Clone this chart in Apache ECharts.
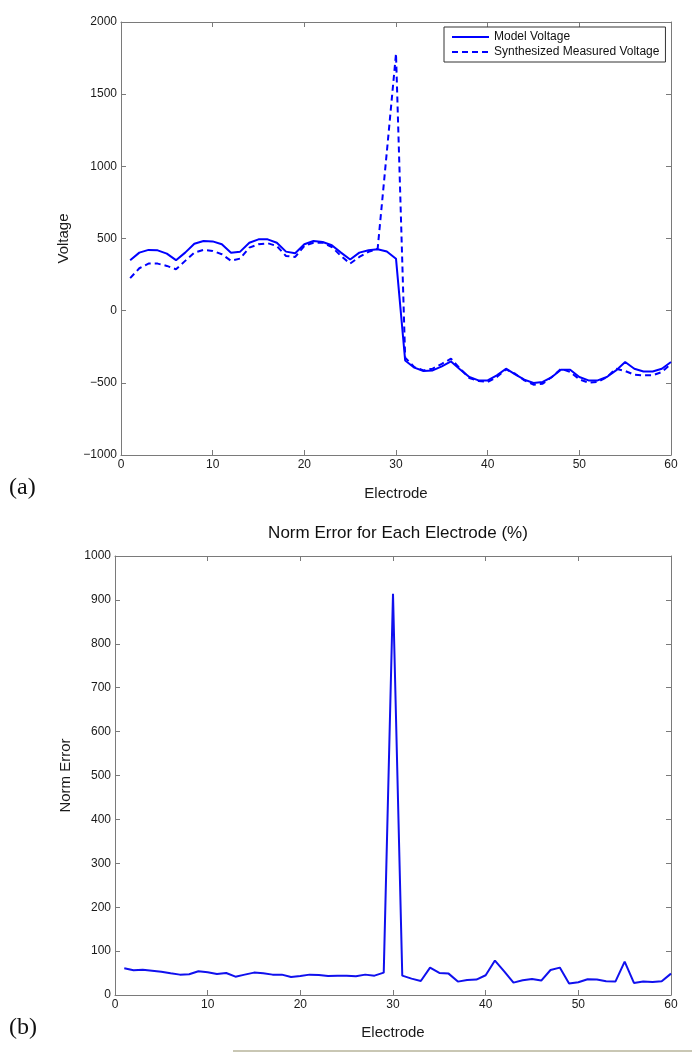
<!DOCTYPE html>
<html>
<head>
<meta charset="utf-8">
<script src="https://cdn.jsdelivr.net/npm/echarts@6/dist/echarts.min.js"></script>
<style>
  html, body { margin: 0; padding: 0; background: #fff; }
  #chart { width: 692px; height: 1053px; }
</style>
</head>
<body>
<div id="chart"></div>
<script>
  // electrode index (x)
  const electrodes = [1, 2, 3, 4, 5, 6, 7, 8, 9, 10, 11, 12, 13, 14, 15, 16, 17, 18, 19, 20,
    21, 22, 23, 24, 25, 26, 27, 28, 29, 30, 31, 32, 33, 34, 35, 36, 37, 38, 39, 40,
    41, 42, 43, 44, 45, 46, 47, 48, 49, 50, 51, 52, 53, 54, 55, 56, 57, 58, 59, 60]

  // (a) voltages
  const modelVoltage = [350, 402, 421, 418, 395, 350, 402, 464, 483, 480, 460, 402, 409, 471, 494, 494, 471, 409, 398, 460,
    483, 476, 453, 402, 354, 402, 418, 425, 410, 360, -345, -395, -418, -414, -386, -352, -407, -460, -483, -483,
    -448, -402, -441, -478, -501, -494, -460, -409, -409, -460, -483, -483, -460, -414, -356, -402, -421, -421, -402, -356]
  const measuredVoltage = [225, 294, 326, 326, 310, 287, 345, 402, 421, 414, 391, 345, 361, 437, 460, 467, 448, 379, 372, 448,
    471, 471, 441, 379, 326, 372, 407, 430, 1100, 1780, -325, -391, -414, -402, -368, -333, -402, -467, -487, -494,
    -460, -407, -437, -483, -513, -506, -460, -402, -425, -476, -499, -494, -460, -402, -418, -444, -448, -448, -425, -368]

  // (b) norm error per electrode
  const normError = [60.8, 56.2, 57.7, 55.5, 53.2, 49.4, 46.4, 47.2, 54.0, 51.7, 47.9, 50.2, 41.8, 46.4, 51.0, 49.4, 46.4, 46.4, 41.1, 43.4,
    46.4, 45.6, 43.4, 44.1, 44.1, 42.6, 46.4, 44.1, 51.0, 914, 44.1, 37.3, 32.0, 62.4, 50.2, 48.7, 30.5, 34.3, 35.1, 45.0,
    78.4, 54.0, 28.2, 33.5, 36.6, 32.8, 57.0, 62.4, 26.0, 29.0, 35.8, 35.1, 31.3, 30.5, 76.1, 27.5, 30.5, 29.8, 31.3, 48.7]

  const pairs = (ys) => electrodes.map((x, i) => [x, ys[i]])

  const axisColor = '#7a7a7a'
  const labelFont = { color: '#1a1a1a', fontSize: 12, fontFamily: 'Liberation Sans' }
  const nameFont = { color: '#1a1a1a', fontSize: 15, fontFamily: 'Liberation Sans' }

  // one side of the matlab style box, ticks pointing inward
  function frameAxis(gridIndex, position, min, max, interval, withLabels) {
    return {
      type: 'value',
      gridIndex: gridIndex,
      position: position,
      min: min,
      max: max,
      interval: interval,
      axisLine: { show: true, onZero: false, lineStyle: { color: axisColor, width: 1 } },
      axisTick: { show: true, inside: true, length: 5, lineStyle: { color: axisColor } },
      axisLabel: Object.assign({
        show: withLabels,
        margin: 4,
        formatter: function (v) {
          return String(v).replace('-', '\u2212')
        }
      }, labelFont),
      splitLine: { show: false }
    }
  }

  let myChart = echarts.init(document.getElementById('chart'))

  let xTop = frameAxis(0, 'bottom', 0, 60, 10, true)
  xTop.name = 'Electrode'
  xTop.nameLocation = 'middle'
  xTop.nameGap = 31
  xTop.nameTextStyle = nameFont
  let xBottom = frameAxis(1, 'bottom', 0, 60, 10, true)
  xBottom.name = 'Electrode'
  xBottom.nameLocation = 'middle'
  xBottom.nameGap = 30
  xBottom.nameTextStyle = nameFont

  let yTop = frameAxis(0, 'left', -1000, 2000, 500, true)
  yTop.name = 'Voltage'
  yTop.nameLocation = 'middle'
  yTop.nameGap = 50
  yTop.nameTextStyle = nameFont
  let yBottom = frameAxis(1, 'left', 0, 1000, 100, true)
  yBottom.name = 'Norm Error'
  yBottom.nameLocation = 'middle'
  yBottom.nameGap = 39
  yBottom.nameTextStyle = nameFont

  let option = {
    animation: false,
    backgroundColor: '#fff',
    title: {
      text: 'Norm Error for Each Electrode (%)',
      left: 393,
      top: 520,
      textAlign: 'center',
      textStyle: { color: '#111', fontSize: 17, fontWeight: 'normal', fontFamily: 'Liberation Sans' }
    },
    legend: {
      data: ['Model Voltage', 'Synthesized Measured Voltage'],
      orient: 'vertical',
      left: 444,
      top: 27,
      padding: [4, 6, 4, 7],
      itemGap: 3,
      itemWidth: 37,
      itemHeight: 12,
      backgroundColor: '#fff',
      borderColor: '#333',
      borderWidth: 1,
      itemStyle: { opacity: 0 },
      textStyle: { color: '#111', fontSize: 12, fontFamily: 'Liberation Sans' }
    },
    grid: [
      { left: 121, top: 22, width: 550, height: 433 },
      { left: 115, top: 556, width: 556, height: 439 }
    ],
    xAxis: [xTop, frameAxis(0, 'top', 0, 60, 10, false), xBottom, frameAxis(1, 'top', 0, 60, 10, false)],
    yAxis: [yTop, frameAxis(0, 'right', -1000, 2000, 500, false), yBottom, frameAxis(1, 'right', 0, 1000, 100, false)],
    series: [
      {
        name: 'Model Voltage',
        type: 'line',
        xAxisIndex: 0,
        yAxisIndex: 0,
        symbol: 'none',
        color: '#0000ff',
        lineStyle: { color: '#0000ff', width: 2 },
        data: pairs(modelVoltage)
      },
      {
        name: 'Synthesized Measured Voltage',
        type: 'line',
        xAxisIndex: 0,
        yAxisIndex: 0,
        symbol: 'none',
        color: '#0000ff',
        lineStyle: { color: '#0000ff', width: 2, type: [6, 4] },
        data: pairs(measuredVoltage)
      },
      {
        name: 'Norm Error',
        type: 'line',
        xAxisIndex: 2,
        yAxisIndex: 2,
        symbol: 'none',
        color: '#0000ff',
        lineStyle: { color: '#1010ee', width: 2 },
        data: pairs(normError)
      }
    ],
    graphic: [
      {
        type: 'text', left: 9, top: 476,
        style: { text: '(a)', fontSize: 24, fontFamily: 'Liberation Serif', fill: '#111' }
      },
      {
        type: 'text', left: 9, top: 1016,
        style: { text: '(b)', fontSize: 24, fontFamily: 'Liberation Serif', fill: '#111' }
      },
      {
        type: 'line',
        shape: { x1: 233, y1: 1051, x2: 692, y2: 1051 },
        style: { stroke: '#c9c7b4', lineWidth: 2 }
      }
    ]
  }
  myChart.setOption(option)
</script>
</body>
</html>
